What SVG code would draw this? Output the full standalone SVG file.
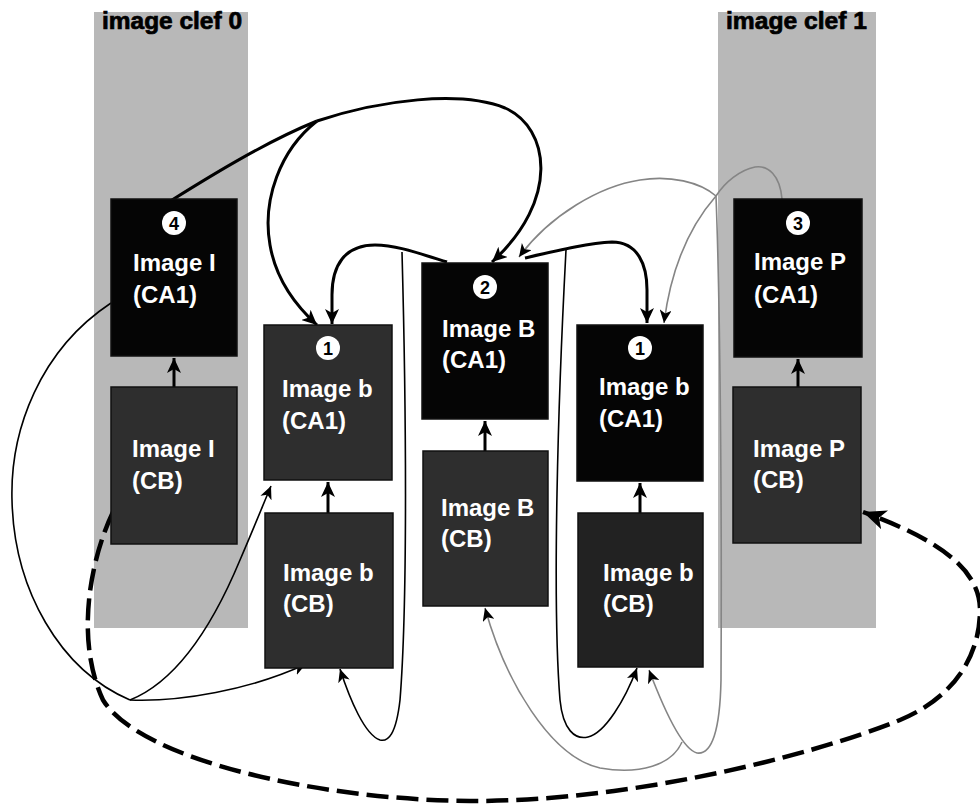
<svg xmlns="http://www.w3.org/2000/svg" width="980" height="805" viewBox="0 0 980 805">
<style>
.col{fill:#b8b8b8}
.title{font-family:"Liberation Sans",Arial,sans-serif;font-weight:bold;font-size:23px;fill:#000;stroke:#000;stroke-width:0.7}
.blk{fill:#050505;stroke:#111;stroke-width:1.5}
.drk{fill:#2e2e2e;stroke:#111;stroke-width:1.5}
.lbl{font-family:"Liberation Sans",Arial,sans-serif;font-weight:bold;font-size:24px;fill:#fff}
.num{font-family:"Liberation Sans",Arial,sans-serif;font-weight:bold;font-size:18px;fill:#000;text-anchor:middle}
.badge{fill:#fff}
.thick{fill:none;stroke:#000;stroke-width:3}
.thin{fill:none;stroke:#000;stroke-width:1.6}
.gray{fill:none;stroke:#858585;stroke-width:1.6}
.dash{fill:none;stroke:#000;stroke-width:4.5;stroke-dasharray:22 8}
</style>
<defs>
<marker id="ah" markerUnits="userSpaceOnUse" markerWidth="16" markerHeight="14" refX="15" refY="7" orient="auto">
<path d="M0,0 L15,7 L0,14 L4,7 z" fill="#000"/>
</marker>
<marker id="ahs" markerUnits="userSpaceOnUse" markerWidth="14" markerHeight="12" refX="13" refY="6" orient="auto">
<path d="M0,0 L13,6 L0,12 L3.5,6 z" fill="#000"/>
</marker>
<marker id="ahb" markerUnits="userSpaceOnUse" markerWidth="24" markerHeight="20" refX="23" refY="10" orient="auto">
<path d="M0,0 L23,10 L0,20 L6,10 z" fill="#000"/>
</marker>
</defs>

<g id="columns">
<rect class="col" x="94" y="12" width="154" height="616"/>
<rect class="col" x="718" y="12" width="158" height="616"/>
<text class="title" x="102" y="29" textLength="140" lengthAdjust="spacingAndGlyphs">image clef 0</text>
<text class="title" x="726" y="29" textLength="141" lengthAdjust="spacingAndGlyphs">image clef 1</text>
</g>

<g id="connectors">
<!-- CB -> CA1 vertical arrows -->
<path class="thick" d="M174,387 L174,358" marker-end="url(#ah)"/>
<path class="thick" d="M328,513 L328,482" marker-end="url(#ah)"/>
<path class="thick" d="M485,451 L485,421" marker-end="url(#ah)"/>
<path class="thick" d="M640,513 L640,483" marker-end="url(#ah)"/>
<path class="thick" d="M798,387 L798,359" marker-end="url(#ah)"/>
<!-- from Image I (CA1) top -->
<path class="thick" d="M172,200 C 220,170 270,140 317,121"/>
<path class="thick" d="M317,121 C 380,100 460,90 505,108 C 550,128 560,200 492,262" marker-end="url(#ah)"/>
<path class="thick" d="M317,121 C 280,150 262,200 270,245 C 276,280 295,305 317,325" marker-end="url(#ah)"/>
<!-- from Image B (CA1) top -->
<path class="thick" d="M447,262 C 415,252 395,245 375,245 C 345,245 332,265 332,295 L332,324" marker-end="url(#ah)"/>
<path class="thick" d="M525,258 C 560,250 590,243 612,242 C 638,242 647,265 647,290 L647,323" marker-end="url(#ah)"/>
<path class="thin" d="M402,252 C 406,400 408,600 400,700 C 396,735 388,742 380,740 C 365,735 350,700 340,669" marker-end="url(#ahs)"/>
<path class="thin" d="M566,250 C 558,400 552,600 560,700 C 563,730 575,740 588,737 C 605,733 625,700 637,668" marker-end="url(#ahs)"/>
<!-- from Image I (CA1) left side -->
<path class="thin" d="M111,303 C 40,350 10,430 12,500 C 14,590 60,670 130,700"/>
<path class="thin" d="M130,700 C 180,680 215,620 240,560 C 255,525 263,505 271,486" marker-end="url(#ahs)"/>
<path class="thin" d="M130,700 C 180,702 250,690 306,664" marker-end="url(#ahs)"/>
<!-- from Image P (CA1) top (gray) -->
<path class="gray" d="M782,199 C 780,175 768,165 755,167 C 740,170 725,182 716,196"/>
<path class="gray" d="M716,196 C 700,182 670,175 640,180 C 600,186 550,215 519,257" marker-end="url(#ahs)"/>
<path class="gray" d="M716,196 C 695,220 672,260 664,323" marker-end="url(#ahs)"/>
<path class="gray" d="M716,196 C 720,300 722,500 721,680 C 720,730 712,755 697,753 C 685,750 668,720 649,670" marker-end="url(#ahs)"/>
<path class="gray" d="M682,742 C 672,765 640,775 600,768 C 550,757 505,680 485,608" marker-end="url(#ahs)"/>
<!-- dashed I(CB) -> P(CB) -->
<path class="dash" d="M113,512 C 90,560 75,640 103,700 C 140,760 320,800 470,801 C 620,802 800,760 900,720 C 955,697 980,655 980,610 C 980,570 940,540 863,512" marker-end="url(#ahb)"/>
</g>

<g id="node-I-CA1">
<rect class="blk" x="111" y="199" width="126" height="157"/>
<circle class="badge" cx="174" cy="223" r="12"/>
<text class="num" x="174" y="229.5">4</text>
<text class="lbl" x="133" y="271">Image I</text>
<text class="lbl" x="133" y="303">(CA1)</text>
</g>
<g id="node-I-CB">
<rect class="drk" x="111" y="387" width="126" height="157"/>
<text class="lbl" x="132" y="457">Image I</text>
<text class="lbl" x="132" y="489">(CB)</text>
</g>
<g id="node-b1-CA1">
<rect class="drk" x="264" y="325" width="128" height="155"/>
<circle class="badge" cx="328" cy="348" r="12"/>
<text class="num" x="328" y="354.5">1</text>
<text class="lbl" x="282" y="397">Image b</text>
<text class="lbl" x="282" y="429">(CA1)</text>
</g>
<g id="node-b1-CB">
<rect class="drk" x="265" y="513" width="128" height="155"/>
<text class="lbl" x="283" y="581">Image b</text>
<text class="lbl" x="283" y="612">(CB)</text>
</g>
<g id="node-B-CA1">
<rect class="blk" x="422" y="263" width="126" height="156"/>
<circle class="badge" cx="485" cy="287" r="12"/>
<text class="num" x="485" y="293.5">2</text>
<text class="lbl" x="442" y="337">Image B</text>
<text class="lbl" x="442" y="368">(CA1)</text>
</g>
<g id="node-B-CB">
<rect class="drk" x="423" y="451" width="125" height="155"/>
<text class="lbl" x="441" y="516">Image B</text>
<text class="lbl" x="441" y="547">(CB)</text>
</g>
<g id="node-b2-CA1">
<rect class="blk" x="577" y="325" width="126" height="156"/>
<circle class="badge" cx="640" cy="348" r="12"/>
<text class="num" x="640" y="354.5">1</text>
<text class="lbl" x="599" y="395">Image b</text>
<text class="lbl" x="599" y="427">(CA1)</text>
</g>
<g id="node-b2-CB">
<rect class="drk" x="578" y="513" width="125" height="154" style="fill:#222"/>
<text class="lbl" x="603" y="581">Image b</text>
<text class="lbl" x="603" y="612">(CB)</text>
</g>
<g id="node-P-CA1">
<rect class="blk" x="734" y="199" width="128" height="158"/>
<circle class="badge" cx="798" cy="223" r="12"/>
<text class="num" x="798" y="229.5">3</text>
<text class="lbl" x="754" y="270">Image P</text>
<text class="lbl" x="754" y="303">(CA1)</text>
</g>
<g id="node-P-CB">
<rect class="drk" x="733" y="387" width="128" height="156"/>
<text class="lbl" x="753" y="457">Image P</text>
<text class="lbl" x="753" y="488">(CB)</text>
</g>
</svg>
